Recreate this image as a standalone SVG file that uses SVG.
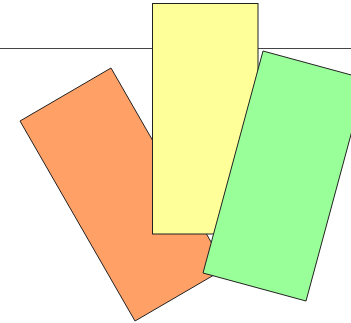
<svg xmlns="http://www.w3.org/2000/svg" width="351" height="323" viewBox="0 0 351 323">
<style>.s{stroke:#222;stroke-width:1}</style>
<rect width="351" height="323" fill="#fff"/>
<line x1="0" y1="48.5" x2="351" y2="48.5" stroke="#444" stroke-width="1"/>
<g id="orange"><polygon class="s" points="111,68 20,121 135,321 226,268" fill="#ffa066"/></g>
<g id="yellow"><rect class="s" x="152.5" y="3.5" width="105.5" height="230.5" fill="#ffff99" stroke="#555"/></g>
<g id="green"><polygon class="s" points="263,51 203,273 306,301 366,79" fill="#99ff99"/></g>
</svg>
